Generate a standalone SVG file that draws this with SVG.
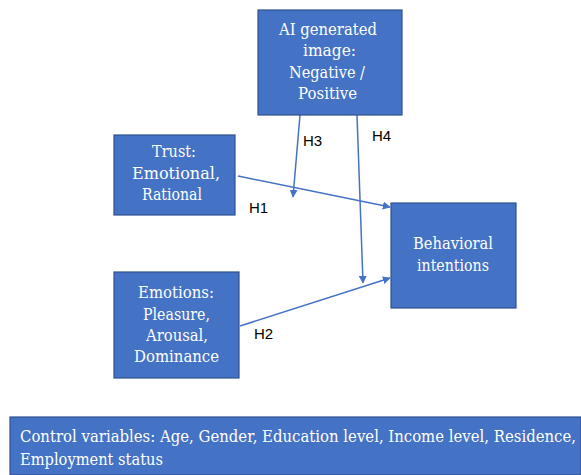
<svg xmlns="http://www.w3.org/2000/svg" width="581" height="475" viewBox="0 0 581 475">
  <style>
    .box { fill: #4472C4; stroke: #2F528F; stroke-width: 1.2; }
    .serif { font-family: "DejaVu Serif", "Liberation Serif", serif; }
    .lbl { font-size: 16.5px; fill: #FFFFFF; text-anchor: middle; }
    .ctl { font-size: 16px; fill: #FFFFFF; }
    .hyp { font-family: "Liberation Sans", Arial, sans-serif; font-size: 15px; fill: #000000; }
    .edge { stroke: #4472C4; stroke-width: 1.5; fill: none; marker-end: url(#arrow); }
  </style>
  <defs>
    <marker id="arrow" viewBox="0 0 10 10" refX="9" refY="5" markerWidth="8" markerHeight="8" orient="auto" markerUnits="userSpaceOnUse">
      <path d="M0,0 L10,5 L0,10 z" fill="#4472C4"/>
    </marker>
  </defs>

  <rect width="581" height="475" fill="#FFFFFF"/>

  <g id="connectors">
    <line class="edge" x1="238" y1="176" x2="390" y2="207"/>
    <line class="edge" x1="300" y1="115" x2="293" y2="197"/>
    <line class="edge" x1="357" y1="115" x2="363" y2="283"/>
    <line class="edge" x1="240" y1="326" x2="390" y2="278"/>
  </g>

  <g id="hypotheses">
    <text class="hyp" x="303" y="146">H3</text>
    <text class="hyp" x="372" y="141">H4</text>
    <text class="hyp" x="249" y="213">H1</text>
    <text class="hyp" x="254" y="339">H2</text>
  </g>

  <g id="ai-image" class="serif">
    <rect class="box" x="258" y="10" width="144" height="105"/>
    <text class="lbl" x="328" y="35" textLength="98" lengthAdjust="spacingAndGlyphs">AI generated</text>
    <text class="lbl" x="329.5" y="56" textLength="53" lengthAdjust="spacingAndGlyphs">image:</text>
    <text class="lbl" x="327" y="78" textLength="76" lengthAdjust="spacingAndGlyphs">Negative /</text>
    <text class="lbl" x="327.5" y="99" textLength="59" lengthAdjust="spacingAndGlyphs">Positive</text>
  </g>

  <g id="trust" class="serif">
    <rect class="box" x="114" y="135" width="121" height="80"/>
    <text class="lbl" x="174" y="157" textLength="44" lengthAdjust="spacingAndGlyphs">Trust:</text>
    <text class="lbl" x="176" y="179" textLength="88" lengthAdjust="spacingAndGlyphs">Emotional,</text>
    <text class="lbl" x="172" y="200" textLength="60" lengthAdjust="spacingAndGlyphs">Rational</text>
  </g>

  <g id="emotions" class="serif">
    <rect class="box" x="114" y="272" width="125" height="106"/>
    <text class="lbl" x="176" y="298" textLength="76" lengthAdjust="spacingAndGlyphs">Emotions:</text>
    <text class="lbl" x="176.5" y="320" textLength="67" lengthAdjust="spacingAndGlyphs">Pleasure,</text>
    <text class="lbl" x="177" y="341" textLength="62" lengthAdjust="spacingAndGlyphs">Arousal,</text>
    <text class="lbl" x="176.5" y="362" textLength="85" lengthAdjust="spacingAndGlyphs">Dominance</text>
  </g>

  <g id="behavioral" class="serif">
    <rect class="box" x="391" y="203" width="125" height="105"/>
    <text class="lbl" x="453" y="249" textLength="80" lengthAdjust="spacingAndGlyphs">Behavioral</text>
    <text class="lbl" x="453" y="271" textLength="72" lengthAdjust="spacingAndGlyphs">intentions</text>
  </g>

  <g id="controls" class="serif">
    <rect class="box" x="10" y="417" width="571" height="58"/>
    <text class="ctl" x="20" y="442" textLength="556" lengthAdjust="spacingAndGlyphs">Control variables: Age, Gender, Education level, Income level, Residence,</text>
    <text class="ctl" x="20" y="465" textLength="143" lengthAdjust="spacingAndGlyphs">Employment status</text>
  </g>
</svg>
